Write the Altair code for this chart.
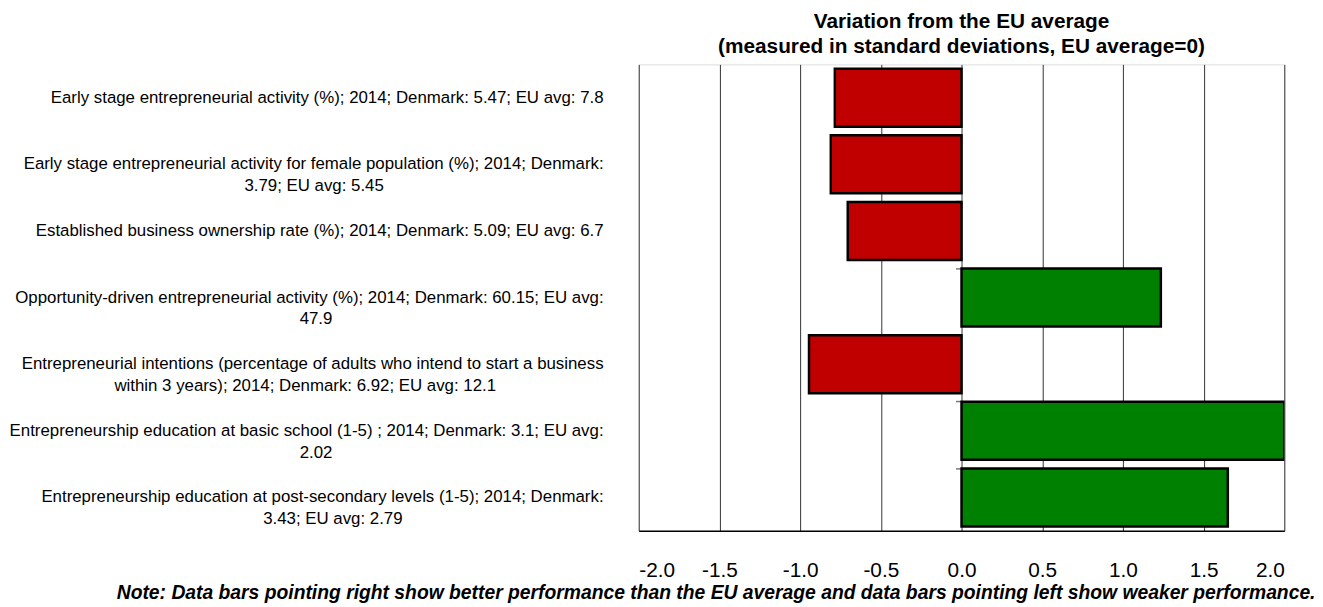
import altair as alt
import pandas as pd

labels = [
    "Early stage entrepreneurial activity (%); 2014; Denmark: 5.47; EU avg: 7.8",
    "Early stage entrepreneurial activity for female population (%); 2014; Denmark:\n3.79; EU avg: 5.45",
    "Established business ownership rate (%); 2014; Denmark: 5.09; EU avg: 6.7",
    "Opportunity-driven entrepreneurial activity (%); 2014; Denmark: 60.15; EU avg:\n47.9",
    "Entrepreneurial intentions (percentage of adults who intend to start a business\nwithin 3 years); 2014; Denmark: 6.92; EU avg: 12.1",
    "Entrepreneurship education at basic school (1-5) ; 2014; Denmark: 3.1; EU avg:\n2.02",
    "Entrepreneurship education at post-secondary levels (1-5); 2014; Denmark:\n3.43; EU avg: 2.79",
]
values = [-0.785, -0.81, -0.705, 1.235, -0.945, 2.0, 1.65]
x_ticks = [-2.0, -1.5, -1.0, -0.5, 0.0, 0.5, 1.0, 1.5, 2.0]

df = pd.DataFrame({"label": labels, "value": values})
df["better"] = df["value"] > 0

FONT = "Liberation Sans Narrow, Arial Narrow, Liberation Sans, sans-serif"
note = ("Note: Data bars pointing right show better performance than the EU average "
        "and data bars pointing left show weaker performance.")

NB = "\u00a0"
ZW = "\u200b"
L = "split(datum.label, '\\n')"
# second line roughly centred under the first (labels are right-aligned);
# a zero-width char keeps the no-break spaces from being trimmed
label_expr = (
    f"length({L}) > 1 ? [{L}[0], {L}[1] + pad('', round((length({L}[0]) - "
    f"length({L}[1])) * 0.79), '{NB}') + '{ZW}'] : datum.label"
)

yscale = alt.Scale(paddingInner=0.13, paddingOuter=0.065)

bars = alt.Chart(df).mark_bar(stroke="black", strokeWidth=2.5, clip=True).encode(
    x=alt.X("value:Q",
            scale=alt.Scale(domain=[-2, 2], nice=False, zero=False),
            axis=alt.Axis(values=x_ticks,
                          labelExpr="(datum.value < 0 ? '-' : '') + format(abs(datum.value), '.1f')",
                          title=note,
                          titleFont=FONT, titleFontSize=19.5, titleFontWeight="bold",
                          titleFontStyle="italic", titleColor="black",
                          titleAnchor="end", titleAlign="right", titleX=683,
                          titlePadding=3,
                          labelFont=FONT, labelFontSize=21, labelColor="black",
                          labelPadding=29, ticks=False, domainColor="black",
                          domainWidth=1.5, grid=True, gridColor="#333",
                          gridWidth=1)),
    y=alt.Y("label:N", sort=labels, scale=yscale,
            axis=alt.Axis(title=None, labelExpr=label_expr,
                          labelFont=FONT, labelFontSize=17, labelColor="black",
                          labelLineHeight=22, labelLimit=800, labelPadding=36,
                          ticks=False, domain=False, grid=False)),
    color=alt.Color("better:N",
                    scale=alt.Scale(domain=[False, True], range=["#C00000", "#008000"]),
                    legend=None),
)

ticks = alt.Chart(df).mark_bar(opacity=0).encode(
    y=alt.Y("label:N", sort=labels, scale=yscale,
            axis=alt.Axis(orient="left", labels=False, domain=False, ticks=True,
                          tickSize=6, tickColor="#777", tickWidth=1.5,
                          bandPosition=0, offset=-326, title=None, grid=False)),
)

chart = alt.layer(bars, ticks).resolve_axis(y="independent").properties(
    width=652, height=471,
    padding={"left": 0, "top": 0, "right": 0, "bottom": 0},
    title=alt.TitleParams(
        ["Variation from the EU average",
         "(measured in standard deviations, EU average=0)"],
        font=FONT, fontSize=21, fontWeight="bold", color="black",
        anchor="middle", lineHeight=25, offset=8),
).configure_view(stroke="#888", strokeWidth=1.5).configure(background="white")

chart.save("out.html", embed_options={"renderer": "svg", "actions": False})
